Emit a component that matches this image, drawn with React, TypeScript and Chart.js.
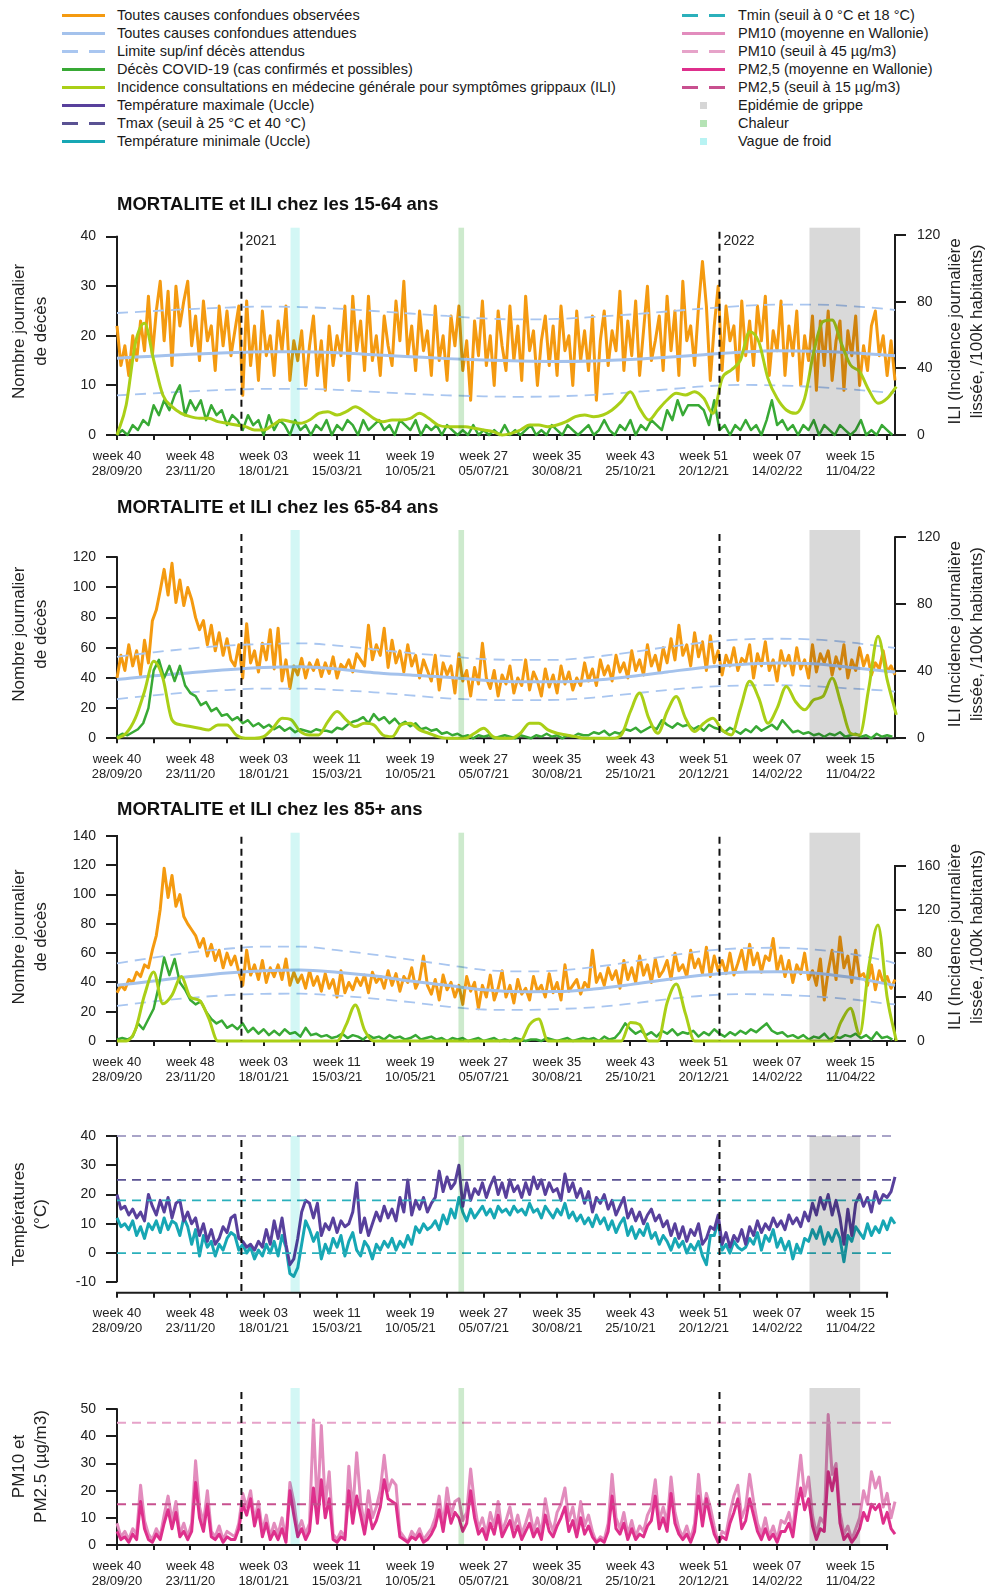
import React, { useEffect, useRef } from "react";
import { Chart, registerables } from "chart.js";
Chart.register(...registerables);

const FONT = '"Liberation Sans", Arial, Helvetica, sans-serif';

// ---------- axis labels ----------
const weekLabels = ["week 40","week 48","week 03","week 11","week 19","week 27","week 35","week 43","week 51","week 07","week 15"];
const dateLabels = ["28/09/20","23/11/20","18/01/21","15/03/21","10/05/21","05/07/21","30/08/21","25/10/21","20/12/21","14/02/22","11/04/22"];
const X_MAX_DAY = 594; // days since 28/09/20 (last day 15/05/22)

// ---------- periods (days since 28/09/20) ----------
const yearStartDays = [95, 460];
const yearLabels = ["2021", "2022"];
const coldWaveDays = [132.5, 139.5];
const heatWaveDays = [260.7, 265];
const fluEpidemicDays = [528.7, 567.4];

// ---------- sampling steps of the series (days) ----------
const OBS_STEP = 3;
const COV_STEP = 4;
const ILI_STEP = 7;
const smoothDays = [0,28,56,84,112,140,168,196,224,252,280,308,336,364,392,420,448,476,504,532,560,588,594];

// ---------- 15-64 ----------
const obs1564 = [
22,14,18,12,20,15,23,17,28,16,
25,31,19,29,14,30,22,27,31,18,
24,15,27,19,22,13,26,18,25,16,
21,26,8,27,14,22,11,25,16,20,
12,23,17,26,11,19,15,21,10,18,
24,12,19,9,22,14,20,16,26,11,
28,17,23,13,28,15,20,12,24,18,
14,27,19,31,16,22,13,25,17,21,
12,26,15,20,11,24,18,26,13,19,
7,23,16,27,14,20,10,25,18,13,
26,15,22,11,28,17,21,10,19,24,
14,22,12,26,17,20,10,25,15,21,
13,24,7,19,25,14,21,17,29,13,
23,16,27,12,21,30,15,19,24,13,
28,17,25,12,31,19,22,14,26,35,
26,11,22,30,13,26,19,22,11,27,
16,23,14,26,19,28,12,21,17,27,
12,22,16,25,10,20,15,24,9,23,
14,25,11,19,23,9,21,16,24,10,
18,13,22,25,16,20,12,19,11];
const cov1564 = [
0,1,0,2,1,3,2,6,4,7,
5,8,10,4,7,5,7,3,6,4,
5,2,4,3,1,4,2,3,0,4,
1,3,2,0,3,1,2,0,2,1,
3,0,2,1,3,2,0,3,1,2,
3,1,2,0,3,2,1,3,0,2,
1,2,0,2,1,0,1,0,2,0,
1,0,1,0,2,0,1,0,1,2,
0,1,0,2,1,0,2,1,0,1,
2,0,1,3,1,0,2,1,3,0,
2,1,3,2,1,5,3,7,4,6,
6,6,5,2,7,1,2,0,2,1,
3,1,2,0,3,7,2,3,1,2,
0,2,1,3,0,2,1,0,2,1,
0,1,3,0,1,0,2,1,0];
const exp1564 = [15.5,15.9,16.3,16.6,16.8,16.8,16.6,16.2,15.8,15.4,15.1,14.9,14.8,14.9,15.2,15.7,16.2,16.7,17.0,16.9,16.6,16.1,16.0];
const upp1564 = [24.6,25.0,25.4,25.7,25.9,25.8,25.5,25.0,24.5,24.0,23.5,23.3,23.4,23.8,24.3,24.9,25.5,26.0,26.3,26.3,26.0,25.4,25.2];
const low1564 = [8.0,8.4,8.8,9.1,9.3,9.3,9.1,8.7,8.3,8.0,7.8,7.7,7.8,8.1,8.6,9.2,9.8,10.1,10.0,9.7,9.2,8.6,8.5];
const ili1564 = [
0,18,55,67,45,24,17,13,11,10,
10,8,7,6,5,3,3,6,9,8,
7,9,13,14,12,14,17,14,10,8,
9,9,10,13,10,6,5,5,5,4,
3,2,0,1,3,6,6,5,6,8,
11,12,11,12,15,20,26,16,9,15,
21,25,24,26,22,13,34,39,45,62,
56,34,22,15,13,22,50,68,69,55,
42,38,27,19,22,29];

// ---------- 65-84 ----------
const obs6584 = [
40,55,45,62,48,58,42,65,50,78,
85,98,112,95,116,90,105,88,100,92,
80,72,78,62,75,58,70,55,66,52,
48,62,40,76,50,58,44,63,52,72,
46,73,38,52,33,48,42,53,40,50,
45,52,41,50,43,54,40,49,46,52,
44,56,52,48,75,52,62,55,73,47,
65,50,58,44,62,48,55,40,52,45,
38,55,32,50,42,48,30,56,38,45,
28,47,36,63,40,33,45,28,42,36,
48,30,40,35,52,32,44,38,28,46,
34,42,30,48,36,44,32,40,35,50,
38,46,35,52,42,48,38,55,44,50,
40,58,45,52,42,62,48,55,44,60,
50,66,52,75,55,62,48,70,54,64,
45,68,50,58,42,55,48,60,45,53,
50,62,40,56,48,64,45,52,38,58,
48,55,42,60,46,52,40,62,44,56,
50,58,42,54,46,62,40,52,45,60,
48,55,42,50,46,58,44,48,42];
const cov6584 = [
1,3,2,4,6,10,20,45,52,40,
48,38,48,35,30,28,22,24,18,20,
15,16,12,14,10,12,8,10,7,9,
6,8,5,7,4,6,5,4,6,5,
5,4,7,6,9,11,12,14,10,16,
12,14,10,13,9,11,8,10,6,7,
5,6,3,4,2,3,1,2,0,2,
1,2,0,1,2,1,0,2,1,0,
2,1,3,1,2,0,2,1,3,2,
2,4,3,5,2,4,3,6,5,7,
4,6,8,6,12,9,7,10,8,9,
6,8,5,9,7,6,4,7,5,3,
6,4,8,5,7,9,6,12,8,4,
5,3,4,2,3,1,3,2,4,1,
2,3,1,2,0,3,1,2,1];
const exp6584 = [39,41.5,43.5,45.5,47,47.5,46,43.5,42,40.5,38.5,37.5,37.5,38.5,41,44,47,49,50,49.5,47,44.5,44];
const upp6584 = [54,57,59.5,61.5,62.5,63,61.5,59,56.5,54.5,52.5,52,52,54,57,60.5,63.5,65.5,66,65.5,63.5,60.5,60];
const low6584 = [26,28.5,30.5,32,33,33,32,30.5,28.5,26.5,25.5,25.3,25.5,27,29.5,32,34,35,35.2,34.5,33,31.5,31];
const ili6584 = [
0,3,12,28,46,36,11,8,7,6,
5,8,8,2,0,0,1,6,12,11,
4,2,2,10,16,11,7,9,8,2,
1,8,9,5,3,1,0,0,0,3,
6,1,0,0,3,9,9,5,3,2,
1,0,0,0,0,2,16,27,12,3,
16,25,12,4,9,12,5,2,18,34,
24,9,18,31,22,17,23,25,36,20,
3,2,30,61,35,14];

// ---------- 85+ ----------
const obs85 = [
33,38,35,42,40,47,44,52,50,62,
72,90,118,98,113,92,100,85,80,76,
72,64,70,58,66,55,62,50,60,52,
58,47,38,62,45,52,42,55,40,50,
44,52,42,56,38,47,40,45,36,48,
38,44,34,46,36,42,30,48,33,40,
35,43,38,45,33,47,40,44,36,48,
38,46,34,44,40,50,36,42,58,38,
32,42,28,45,35,40,30,38,25,44,
34,40,22,38,30,45,28,36,48,30,
38,26,42,32,36,28,44,34,38,30,
46,33,40,28,52,34,38,42,32,40,
36,62,40,46,38,50,42,48,36,55,
42,50,40,58,45,52,40,56,44,48,
55,42,60,48,52,44,62,50,56,46,
64,44,58,48,55,46,60,45,53,62,
48,66,52,60,47,58,55,70,48,58,
44,55,40,52,46,60,42,48,38,56,
28,48,62,42,71,50,58,40,62,44,
46,38,52,35,48,40,44,36,42];
const cov85 = [
1,2,1,3,12,8,15,22,38,57,
45,56,40,35,28,25,27,20,15,12,
14,9,11,8,12,6,9,5,8,4,
7,4,8,5,6,3,9,4,5,3,
4,2,3,5,2,4,3,1,4,2,
3,1,4,2,3,1,2,4,1,2,
3,1,2,0,2,1,2,0,1,2,
0,1,2,0,1,0,2,1,0,1,
1,0,2,1,0,1,2,0,1,2,
1,2,0,3,1,2,6,12,8,5,
7,4,6,3,7,5,8,4,6,5,
7,3,6,4,8,5,3,6,4,7,
5,8,6,9,12,7,5,6,3,4,
2,4,1,3,2,5,1,3,2,4,
3,5,2,4,1,6,2,3,1];
const exp85 = [38,41,44,46.5,48,48.5,47,44.5,41,38,35,33.7,33.8,35.5,38.5,42,45,47,47.3,46.5,43.5,39,38];
const upp85 = [53,57,60.5,63,64.5,64.5,62,59,55.5,52,48.5,47.5,48,50.5,54,58,61.5,63.3,63.7,62.5,59.5,54.5,53];
const low85 = [24,27,29.5,31.3,32.2,32.3,31,29,26.5,23.5,21.5,21.2,21.8,23,25.5,28.5,31,32,31.6,30.5,28.5,25.5,25];
const ili85 = [
0,0,10,42,63,34,42,59,40,37,
21,0,0,0,0,0,0,0,0,0,
0,0,0,0,0,15,33,10,0,0,
0,0,0,0,0,0,0,0,0,0,
0,0,0,0,0,15,20,0,0,0,
0,0,0,0,0,0,17,15,0,0,
35,52,25,0,0,0,0,0,0,0,
0,0,0,0,0,0,0,0,0,18,
30,6,68,106,40,0];

// ---------- temperatures (Uccle) ----------
const tmax = [
20,15,16,13,15,12,14,11,20,16,
13,18,14,19,12,17,18,11,14,10,
12,6,10,4,8,3,5,9,7,12,
13,5,4,2,3,1,4,2,8,3,
11,5,12,3,-4,-2,5,14,18,17,
12,17,6,10,8,12,7,11,9,10,
14,24,7,12,6,10,14,11,16,12,
15,11,19,14,25,13,18,15,19,14,
17,19,28,21,26,22,24,30,16,24,
18,22,20,24,19,23,26,20,24,19,
25,21,23,19,24,20,26,22,25,20,
24,21,22,18,27,21,24,19,22,17,
21,14,19,17,20,15,18,13,16,19,
12,15,11,14,10,13,15,11,13,9,
11,6,10,5,9,4,8,6,10,3,
5,9,8,13,3,7,2,6,4,8,
3,9,6,11,7,10,8,12,9,11,
8,13,10,12,9,14,11,17,13,19,
15,20,13,18,12,3,15,6,17,20,
16,19,14,21,17,20,19,21,26];
const tmin = [
12,9,10,8,11,6,9,5,10,8,
11,7,12,8,11,10,6,12,9,3,
8,-1,6,2,4,-1,3,1,5,7,
6,1,3,0,2,-2,1,-1,3,0,
4,-1,6,2,-7,-8,-5,3,11,8,
4,7,-2,3,0,5,2,6,-1,4,
7,1,-1,4,2,-2,3,1,4,2,
5,1,4,2,6,3,9,7,10,8,
9,11,8,13,10,15,12,19,14,11,
15,12,14,16,13,15,12,16,14,15,
13,16,14,15,13,17,14,15,12,16,
14,12,15,13,17,12,14,11,13,10,
12,9,13,10,12,8,11,7,10,12,
6,9,5,8,6,10,5,7,3,6,
4,1,5,2,4,0,3,1,4,-1,
-4,6,6,11,1,3,0,4,2,1,
2,5,3,7,1,6,4,8,2,5,
1,4,-2,3,0,5,4,8,5,9,
3,7,4,8,5,-3,6,4,9,7,
5,10,6,9,7,11,8,12,10];
const tmaxThresholds = [25, 40];
const tminThresholds = [0, 18];

// ---------- particulate matter (Wallonie) ----------
const pm10 = [
8,3,5,2,6,4,22,9,4,2,
6,3,11,18,9,16,4,8,3,8,
31,14,8,20,5,3,7,2,5,4,
3,8,19,14,20,9,16,5,11,3,
8,4,10,2,23,16,5,9,4,8,
46,12,44,15,27,4,2,5,3,29,
12,34,16,7,20,10,14,20,33,20,
24,22,5,3,1,5,3,6,2,4,
6,10,18,7,21,11,16,17,9,12,
28,15,6,10,4,12,7,16,5,9,
14,6,11,4,8,13,5,10,4,17,
9,5,12,15,21,9,14,6,16,7,
11,5,1,3,2,8,26,10,6,12,
4,9,3,7,5,11,14,24,9,14,
8,25,12,6,3,7,2,8,26,11,
19,14,7,1,5,4,12,18,22,10,
14,26,16,8,4,10,3,7,2,9,
8,12,5,20,33,18,25,11,4,10,
8,48,26,30,12,4,7,2,6,10,
20,15,27,21,25,14,19,10,16];
const pm25 = [
5,2,3,1,4,2,16,6,2,1,
4,2,8,13,6,12,3,5,2,5,
23,10,5,15,3,2,4,1,3,2,
2,6,15,11,17,7,13,3,8,2,
5,2,6,1,20,11,3,6,2,5,
21,8,24,10,17,2,1,3,2,20,
8,18,11,4,13,6,9,14,24,17,
16,15,3,2,1,3,2,4,1,2,
4,7,13,5,15,8,12,10,5,8,
20,10,4,6,2,8,4,11,3,6,
9,3,7,2,5,8,3,6,2,11,
5,3,7,10,14,5,9,3,10,4,
7,3,1,2,1,5,18,6,4,8,
2,6,2,4,3,7,9,18,6,10,
5,19,8,4,2,4,1,5,18,7,
17,10,4,1,3,2,8,12,17,6,
9,17,11,5,2,6,2,4,1,5,
5,8,3,14,21,13,17,7,2,6,
5,27,20,28,8,2,4,1,3,6,
12,9,15,13,15,8,12,6,4];
const pm10Threshold = 45;
const pm25Threshold = 15;

// ---------- colours ----------
const C = {
  obs: "#f49a10",
  exp: "#a4c2ec",
  lim: "#a9c6f0",
  cov: "#38a935",
  ili: "#aacf17",
  tmax: "#58409c",
  tmaxDash: "#5a5293",
  tmaxDashLight: "#a9a4c8",
  tmin: "#17a7b4",
  tminDash: "#2bb0bb",
  pm10: "#e28cbd",
  pm10Dash: "#e6a3c9",
  pm25: "#de2f8c",
  pm25Dash: "#c8508f",
  flu: "#d9d9d9",
  heat: "#cdeacd",
  cold: "#d3f7f5",
  axis: "#1c1c1c",
  text: "#222222",
};

// ---------- helpers ----------
const pts = (values: number[], step: number) => values.map((y, i) => ({ x: i * step, y }));
const ptsAt = (days: number[], values: number[]) => values.map((y, i) => ({ x: days[i], y }));
const hline = (v: number) => [{ x: 0, y: v }, { x: X_MAX_DAY, y: v }];
const xTickDays = weekLabels.flatMap((_, k) => [k * 56, k * 56 + 28]);

function mortalitySets(obs: number[], cov: number[], exp: number[], upp: number[], low: number[], ili: number[]) {
  return [
    { data: pts(ili, ILI_STEP), borderColor: C.ili, borderWidth: 3, yAxisID: "y2", cubicInterpolationMode: "monotone" },
    { data: pts(cov, COV_STEP), borderColor: C.cov, borderWidth: 2.5 },
    { data: ptsAt(smoothDays, upp), borderColor: C.lim, borderWidth: 1.8, borderDash: [11, 7], cubicInterpolationMode: "monotone" },
    { data: ptsAt(smoothDays, low), borderColor: C.lim, borderWidth: 1.8, borderDash: [11, 7], cubicInterpolationMode: "monotone" },
    { data: ptsAt(smoothDays, exp), borderColor: C.exp, borderWidth: 3, cubicInterpolationMode: "monotone" },
    { data: pts(obs, OBS_STEP), borderColor: C.obs, borderWidth: 3 },
  ];
}

type Panel = {
  top: number; bottom: number;
  yMin: number; yMax: number; yTicks: number[];
  y2?: { max: number; ticks: number[] };
  title?: string;
  yTitle: string[];
  y2Title?: string[];
  yearText?: boolean;
  fullAxis: boolean;
  datasets: any[];
};

const MORT_Y = ["Nombre journalier", "de décès"];
const ILI_Y = ["ILI (Incidence journalière", "lissée, /100k habitants)"];

const PANELS: Panel[] = [
  {
    top: 227.7, bottom: 435, yMin: 0, yMax: 41.8, yTicks: [0, 10, 20, 30, 40],
    y2: { max: 124.4, ticks: [0, 40, 80, 120] },
    title: "MORTALITE et ILI chez les 15-64 ans", yTitle: MORT_Y, y2Title: ILI_Y, yearText: true, fullAxis: true,
    datasets: mortalitySets(obs1564, cov1564, exp1564, upp1564, low1564, ili1564),
  },
  {
    top: 530, bottom: 738.3, yMin: 0, yMax: 138.1, yTicks: [0, 20, 40, 60, 80, 100, 120],
    y2: { max: 124.4, ticks: [0, 40, 80, 120] },
    title: "MORTALITE et ILI chez les 65-84 ans", yTitle: MORT_Y, y2Title: ILI_Y, fullAxis: true,
    datasets: mortalitySets(obs6584, cov6584, exp6584, upp6584, low6584, ili6584),
  },
  {
    top: 832.7, bottom: 1041, yMin: 0, yMax: 142.25, yTicks: [0, 20, 40, 60, 80, 100, 120, 140],
    y2: { max: 190.4, ticks: [0, 40, 80, 120, 160] },
    title: "MORTALITE et ILI chez les 85+ ans", yTitle: MORT_Y, y2Title: ILI_Y, fullAxis: true,
    datasets: mortalitySets(obs85, cov85, exp85, upp85, low85, ili85),
  },
  {
    top: 1136, bottom: 1292.7, yMin: -13.55, yMax: 40, yTicks: [-10, 0, 10, 20, 30, 40],
    yTitle: ["Températures", "(°C)"], fullAxis: false,
    datasets: [
      { data: hline(tmaxThresholds[1]), borderColor: C.tmaxDashLight, borderWidth: 1.8, borderDash: [9, 6] },
      { data: hline(tmaxThresholds[0]), borderColor: C.tmaxDash, borderWidth: 1.8, borderDash: [9, 6] },
      { data: hline(tminThresholds[1]), borderColor: C.tminDash, borderWidth: 1.8, borderDash: [9, 6] },
      { data: hline(tminThresholds[0]), borderColor: C.tminDash, borderWidth: 1.8, borderDash: [9, 6] },
      { data: pts(tmax, OBS_STEP), borderColor: C.tmax, borderWidth: 3 },
      { data: pts(tmin, OBS_STEP), borderColor: C.tmin, borderWidth: 3 },
    ],
  },
  {
    top: 1388, bottom: 1545, yMin: 0, yMax: 57.8, yTicks: [0, 10, 20, 30, 40, 50],
    yTitle: ["PM10 et", "PM2.5 (µg/m3)"], fullAxis: false,
    datasets: [
      { data: hline(pm10Threshold), borderColor: C.pm10Dash, borderWidth: 1.8, borderDash: [9, 6] },
      { data: hline(pm25Threshold), borderColor: C.pm25Dash, borderWidth: 1.8, borderDash: [9, 6] },
      { data: pts(pm25, OBS_STEP), borderColor: C.pm25, borderWidth: 3 },
      { data: pts(pm10, OBS_STEP), borderColor: C.pm10, borderWidth: 3 },
    ],
  },
];

const PLOT_LEFT = 117;
const PLOT_RIGHT = 895;
const PAGE_W = 987;

function geom(p: Panel) {
  const canvasTop = Math.floor(p.top - 50);
  const end = Math.ceil(p.bottom + 45);
  return { canvasTop, h: end - canvasTop, padTop: p.top - canvasTop, xH: end - p.bottom };
}

function decor(p: Panel) {
  return {
    id: "decor",
    beforeDatasetsDraw(chart: any) {
      const { ctx, chartArea: a, scales } = chart;
      ctx.save();
      ctx.strokeStyle = C.axis;
      ctx.lineWidth = 2;
      ctx.beginPath();
      const ys = scales.y;
      ctx.moveTo(a.left, ys.getPixelForValue(p.yTicks[0]) + (p.fullAxis ? 1 : 0));
      ctx.lineTo(a.left, ys.getPixelForValue(p.yTicks[p.yTicks.length - 1]) - 1);
      const xEnd = p.fullAxis ? a.right + 1 : scales.x.getPixelForValue(xTickDays[xTickDays.length - 1]) + 1;
      ctx.moveTo(a.left - 1, a.bottom);
      ctx.lineTo(xEnd, a.bottom);
      if (p.y2) {
        const y2 = scales.y2;
        ctx.moveTo(a.right, y2.getPixelForValue(0) + 1);
        ctx.lineTo(a.right, y2.getPixelForValue(p.y2.ticks[p.y2.ticks.length - 1]) - 1);
      }
      ctx.stroke();
      ctx.restore();
    },
    afterDatasetsDraw(chart: any) {
      const { ctx, chartArea: a, scales } = chart;
      const x = scales.x;
      ctx.save();
      ctx.globalCompositeOperation = "multiply";
      const bands: [number[], string][] = [[coldWaveDays, C.cold], [heatWaveDays, C.heat], [fluEpidemicDays, C.flu]];
      bands.forEach(([d, col]) => {
        const x0 = x.getPixelForValue(d[0]);
        const x1 = x.getPixelForValue(d[1]);
        ctx.fillStyle = col;
        ctx.fillRect(x0, a.top, x1 - x0, a.bottom - a.top);
      });
      ctx.globalCompositeOperation = "source-over";
      ctx.strokeStyle = "#111";
      ctx.lineWidth = 2;
      ctx.setLineDash([7, 5]);
      yearStartDays.forEach((d) => {
        const px = x.getPixelForValue(d);
        ctx.beginPath();
        ctx.moveTo(px, a.top + 4);
        ctx.lineTo(px, a.bottom);
        ctx.stroke();
      });
      ctx.setLineDash([]);
      if (p.yearText) {
        ctx.font = `14px ${FONT}`;
        ctx.fillStyle = C.text;
        ctx.textBaseline = "middle";
        ctx.textAlign = "left";
        yearStartDays.forEach((d, i) => ctx.fillText(yearLabels[i], x.getPixelForValue(d) + 4, a.top + 13));
      }
      ctx.restore();
    },
    afterDraw(chart: any) {
      const { ctx, chartArea: a } = chart;
      ctx.save();
      if (p.title) {
        ctx.font = `bold 18.5px ${FONT}`;
        ctx.fillStyle = "#111";
        ctx.textAlign = "left";
        ctx.textBaseline = "middle";
        ctx.fillText(p.title, a.left, a.top - 22.5);
      }
      const cy = (a.top + a.bottom) / 2;
      ctx.font = `17px ${FONT}`;
      ctx.fillStyle = C.text;
      ctx.textAlign = "center";
      ctx.textBaseline = "middle";
      const drawRot = (lines: string[], xs: number[]) => {
        lines.forEach((t, i) => {
          ctx.save();
          ctx.translate(xs[i], cy);
          ctx.rotate(-Math.PI / 2);
          ctx.fillText(t, 0, 0);
          ctx.restore();
        });
      };
      drawRot(p.yTitle, [19.5, 41]);
      if (p.y2Title) drawRot(p.y2Title, [955, 977]);
      ctx.restore();
    },
  };
}

function makeChart(canvas: HTMLCanvasElement, p: Panel) {
  const g = geom(p);
  const yTickFont = { size: 14, family: FONT };
  const scales: any = {
    x: {
      type: "linear",
      min: 0,
      max: X_MAX_DAY,
      afterBuildTicks: (s: any) => { s.ticks = xTickDays.map((v) => ({ value: v })); },
      afterFit: (s: any) => { s.height = g.xH; },
      grid: { display: true, drawOnChartArea: false, drawTicks: true, tickLength: 5, color: C.axis, lineWidth: 2 },
      border: { display: false },
      ticks: {
        autoSkip: false,
        maxRotation: 0,
        minRotation: 0,
        padding: 8.5,
        color: C.text,
        font: { size: 13, family: FONT, lineHeight: 15 / 13 },
        callback: (v: any) => {
          const d = Number(v);
          if (d % 56 === 0) {
            const k = d / 56;
            return [weekLabels[k], dateLabels[k]];
          }
          return "";
        },
      },
    },
    y: {
      type: "linear",
      position: "left",
      min: p.yMin,
      max: p.yMax,
      afterBuildTicks: (s: any) => { s.ticks = p.yTicks.map((v) => ({ value: v })); },
      afterFit: (s: any) => { s.width = PLOT_LEFT; },
      grid: { display: true, drawOnChartArea: false, drawTicks: true, tickLength: 11, color: C.axis, lineWidth: 2 },
      border: { display: false },
      ticks: { padding: 10, color: C.text, font: yTickFont, callback: (v: any) => String(v) },
    },
  };
  if (p.y2) {
    const y2 = p.y2;
    scales.y2 = {
      type: "linear",
      position: "right",
      min: 0,
      max: y2.max,
      afterBuildTicks: (s: any) => { s.ticks = y2.ticks.map((v) => ({ value: v })); },
      afterFit: (s: any) => { s.width = PAGE_W - PLOT_RIGHT; },
      grid: { display: true, drawOnChartArea: false, drawTicks: true, tickLength: 11, color: C.axis, lineWidth: 2 },
      border: { display: false },
      ticks: { padding: 11, color: C.text, font: yTickFont, callback: (v: any) => String(v) },
    };
  }
  return new Chart(canvas, {
    type: "line",
    data: {
      datasets: p.datasets.map((d) => ({
        pointRadius: 0,
        pointHoverRadius: 0,
        fill: false,
        clip: 8,
        borderJoinStyle: "round",
        ...d,
      })),
    },
    options: {
      responsive: false,
      animation: false,
      events: [],
      parsing: false,
      layout: { padding: { top: g.padTop, left: 0, right: p.y2 ? 0 : PAGE_W - PLOT_RIGHT, bottom: 0 } },
      plugins: { legend: { display: false }, tooltip: { enabled: false }, title: { display: false } },
      scales,
    } as any,
    plugins: [decor(p)],
  } as any);
}

// ---------- legend ----------
type LegendEntry = { label: string; color: string; kind: "solid" | "dash" | "square" };
const legendLeft: LegendEntry[] = [
  { label: "Toutes causes confondues observées", color: C.obs, kind: "solid" },
  { label: "Toutes causes confondues attendues", color: C.exp, kind: "solid" },
  { label: "Limite sup/inf décès attendus", color: C.lim, kind: "dash" },
  { label: "Décès COVID-19 (cas confirmés et possibles)", color: C.cov, kind: "solid" },
  { label: "Incidence consultations en médecine générale pour symptômes grippaux (ILI)", color: C.ili, kind: "solid" },
  { label: "Température maximale (Uccle)", color: C.tmax, kind: "solid" },
  { label: "Tmax (seuil à 25 °C et 40 °C)", color: C.tmaxDash, kind: "dash" },
  { label: "Température minimale (Uccle)", color: C.tmin, kind: "solid" },
];
const legendRight: LegendEntry[] = [
  { label: "Tmin (seuil à 0 °C et 18 °C)", color: C.tminDash, kind: "dash" },
  { label: "PM10 (moyenne en Wallonie)", color: C.pm10, kind: "solid" },
  { label: "PM10 (seuil à 45 µg/m3)", color: C.pm10Dash, kind: "dash" },
  { label: "PM2,5 (moyenne en Wallonie)", color: C.pm25, kind: "solid" },
  { label: "PM2,5 (seuil à 15 µg/m3)", color: C.pm25Dash, kind: "dash" },
  { label: "Epidémie de grippe", color: "#d6d6d6", kind: "square" },
  { label: "Chaleur", color: "#b5e3b5", kind: "square" },
  { label: "Vague de froid", color: "#b8f3f3", kind: "square" },
];

function LegendColumn({ items, x0, x1, tx }: { items: LegendEntry[]; x0: number; x1: number; tx: number }) {
  return (
    <>
      {items.map((it, i) => {
        const y = 15 + 18 * i;
        const abs: React.CSSProperties = { position: "absolute" };
        let mark: React.ReactNode = null;
        if (it.kind === "solid") {
          mark = <div style={{ ...abs, left: x0, top: y - 1.5, width: x1 - x0, height: 3, background: it.color }} />;
        } else if (it.kind === "dash") {
          mark = (
            <>
              <div style={{ ...abs, left: x0, top: y - 1.5, width: 16, height: 3, background: it.color }} />
              <div style={{ ...abs, left: x1 - 16, top: y - 1.5, width: 16, height: 3, background: it.color }} />
            </>
          );
        } else {
          mark = <div style={{ ...abs, left: (x0 + x1) / 2 - 3.5, top: y - 3.5, width: 7, height: 7, background: it.color }} />;
        }
        return (
          <React.Fragment key={i}>
            {mark}
            <div style={{ ...abs, left: tx, top: y - 10, height: 20, lineHeight: "20px", whiteSpace: "nowrap" }}>{it.label}</div>
          </React.Fragment>
        );
      })}
    </>
  );
}

export default function App() {
  const refs = useRef<(HTMLCanvasElement | null)[]>([]);
  useEffect(() => {
    Chart.defaults.font.family = FONT;
    Chart.defaults.color = C.text;
    const charts = PANELS.map((p, i) => makeChart(refs.current[i] as HTMLCanvasElement, p));
    return () => charts.forEach((c) => c.destroy());
  }, []);
  return (
    <div style={{ position: "absolute", left: 0, top: 0, width: PAGE_W, height: 1588, overflow: "hidden", background: "#fff", fontFamily: FONT, color: "#1a1a1a" }}>
      <div style={{ position: "absolute", left: 0, top: 0, width: PAGE_W, height: 160, fontSize: 14.5 }}>
        <LegendColumn items={legendLeft} x0={62} x1={105} tx={117} />
        <LegendColumn items={legendRight} x0={682} x1={725} tx={738} />
      </div>
      {PANELS.map((p, i) => {
        const g = geom(p);
        return (
          <canvas
            key={i}
            ref={(el) => { refs.current[i] = el; }}
            width={PAGE_W}
            height={g.h}
            style={{ position: "absolute", left: 0, top: g.canvasTop, width: PAGE_W, height: g.h }}
          />
        );
      })}
    </div>
  );
}
